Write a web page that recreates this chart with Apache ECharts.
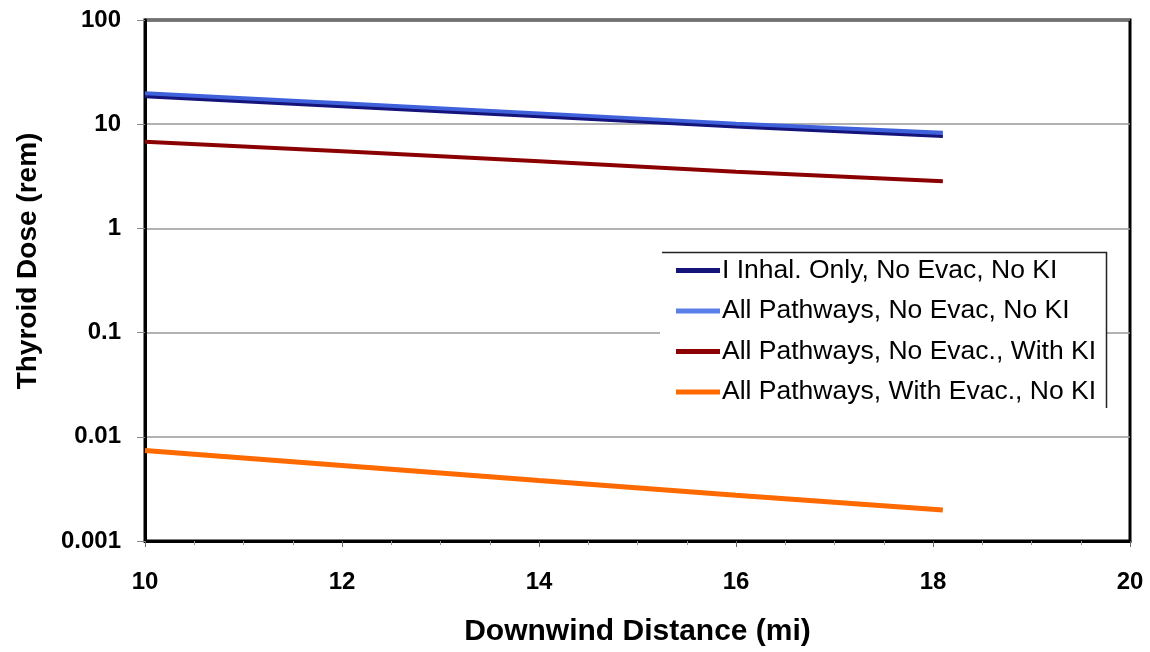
<!DOCTYPE html>
<html>
<head>
<meta charset="utf-8">
<script src="https://cdn.jsdelivr.net/npm/echarts@6/dist/echarts.min.js"></script>
<style>html,body{margin:0;padding:0;background:#fff;}#c{width:1150px;height:652px;}</style>
</head>
<body>
<div id="c"></div>
<script>
const distance = [10, 12, 14, 16, 18.1];
const inhalOnly = [18.3, 14.7, 11.8, 9.4, 7.6];
const allNoEvacNoKI = [19.4, 15.5, 12.4, 9.9, 8.1];
const allNoEvacWithKI = [6.8, 5.5, 4.4, 3.5, 2.83];
const allWithEvacNoKI = [0.0074, 0.0053, 0.0038, 0.00275, 0.00198];
const seriesNames = [
  'I Inhal. Only, No Evac, No KI',
  'All Pathways, No Evac, No KI',
  'All Pathways, No Evac., With KI',
  'All Pathways, With Evac., No KI'
];
const yTicks = ['0.001', '0.01', '0.1', '1', '10', '100'];
const yTitle = 'Thyroid Dose (rem)';
const xTitle = 'Downwind Distance (mi)';

function pairs(ys) { return distance.map((x, i) => [x, ys[i]]); }

const chart = echarts.init(document.getElementById('c'));
const font = 'Liberation Sans, Arial, sans-serif';
chart.setOption({
  animation: false,
  backgroundColor: '#fff',
  grid: { left: 145, right: 20, top: 20, bottom: 109, show: true, borderColor: '#000', borderWidth: 3 },
  legend: {
    left: 660, top: 252, orient: 'vertical',
    data: seriesNames.map(n => ({ name: n, icon: 'rect' })),
    backgroundColor: '#fff', borderWidth: 0,
    padding: [5, 10, 4, 16],
    itemWidth: 44, itemHeight: 5, itemGap: 13.5,
    textStyle: { fontFamily: font, fontSize: 26.5, color: '#000', padding: [0, 0, 0, -3] }
  },
  graphic: [{
    type: 'polyline', z: 100,
    shape: { points: [[662, 252.5], [1106.5, 252.5], [1106.5, 408]] },
    style: { stroke: '#222', lineWidth: 1.5, fill: null }
  }, {
    type: 'text', z: 100, x: 28, y: 261, rotation: Math.PI / 2,
    style: { text: yTitle, font: 'bold 28px ' + font, fill: '#000', align: 'center', verticalAlign: 'middle' }
  }],
  xAxis: {
    type: 'value', min: 10, max: 20, interval: 2,
    name: xTitle, nameLocation: 'middle', nameGap: 76,
    nameTextStyle: { fontFamily: font, fontSize: 30, fontWeight: 'bold', color: '#000' },
    axisLine: { lineStyle: { color: '#000', width: 3 } },
    axisTick: { show: true, length: 6, lineStyle: { color: '#666' } },
    minorTick: { show: true, splitNumber: 4, length: 4, lineStyle: { color: '#999' } },
    axisLabel: { fontFamily: font, fontSize: 24, fontWeight: 'bold', color: '#000', margin: 29 },
    splitLine: { show: false }
  },
  yAxis: {
    type: 'log', logBase: 10, min: 0.001, max: 100,
    axisLine: { show: true, lineStyle: { color: '#000', width: 3 } },
    axisTick: { show: true, length: 8, lineStyle: { color: '#888' } },
    axisLabel: {
      fontFamily: font, fontSize: 24, fontWeight: 'bold', color: '#000', margin: 24,
      formatter: function (v) {
        const e = Math.round(Math.log10(v));
        return yTicks[e + 3] !== undefined ? yTicks[e + 3] : '';
      }
    },
    splitLine: { show: true, lineStyle: { color: '#999', width: 1.5 } }
  },
  series: [
    { name: seriesNames[1], type: 'line', data: pairs(allNoEvacNoKI), symbol: 'none', z: 2,
      lineStyle: { color: '#3f62dc', width: 6 }, itemStyle: { color: '#5b7fe8' } },
    { name: seriesNames[0], type: 'line', data: pairs(inhalOnly), symbol: 'none', z: 3,
      lineStyle: { color: '#14147a', width: 3 }, itemStyle: { color: '#14147a' } },
    { name: seriesNames[2], type: 'line', data: pairs(allNoEvacWithKI), symbol: 'none', z: 2,
      lineStyle: { color: '#8b0000', width: 4 }, itemStyle: { color: '#8b0000' } },
    { name: seriesNames[3], type: 'line', data: pairs(allWithEvacNoKI), symbol: 'none', z: 2,
      lineStyle: { color: '#ff6a00', width: 5 }, itemStyle: { color: '#ff6a00' } }
  ]
});
</script>
</body>
</html>
